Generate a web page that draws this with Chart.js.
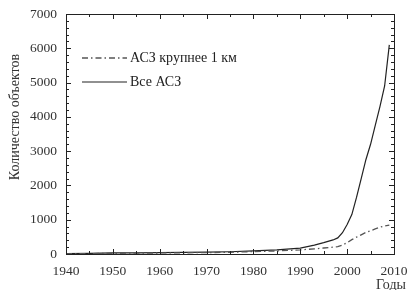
<!DOCTYPE html>
<html>
<head>
<meta charset="utf-8">
<script src="https://cdn.jsdelivr.net/npm/chart.js@4.4.0/dist/chart.umd.min.js"></script>
<style>
  body { margin: 0; background: #fff; }
  canvas { display: block; }
</style>
</head>
<body>
<canvas id="c" width="409" height="290"></canvas>
<script>
// данные
const years = [1940, 1945, 1950, 1955, 1960, 1965, 1970, 1975, 1980, 1985, 1990, 1993, 1995, 1997, 1998,
               1999, 2000, 2001, 2002, 2003, 2004, 2005, 2006, 2007, 2008, 2009];
const allNeo = [10, 20, 30, 35, 40, 45, 55, 65, 90, 120, 170, 260, 330, 410, 470,
                620, 860, 1150, 1650, 2200, 2750, 3200, 3750, 4300, 4900, 6100];
const bigNeo = [5, 12, 20, 25, 30, 35, 40, 50, 70, 90, 120, 150, 175, 200, 215,
                260, 330, 420, 490, 560, 630, 680, 730, 780, 820, 845];
const labels = ['АСЗ крупнее 1 км', 'Все АСЗ'];
const yTicks = [0, 1000, 2000, 3000, 4000, 5000, 6000, 7000];
const xTicks = [1940, 1950, 1960, 1970, 1980, 1990, 2000, 2010];

const FONT = 'Liberation Serif';
const TXT = '#333';

function pts(vals) {
    return years.map((y, i) => ({ x: y, y: vals[i] }));
}

// рамка, засечки внутрь, легенда и подписи осей
const framePlugin = {
    id: 'frame',
    afterDraw(chart) {
        const ctx = chart.ctx;
        const a = chart.chartArea;
        const xs = chart.scales.x, ys = chart.scales.y;
        ctx.save();
        ctx.strokeStyle = '#222';
        ctx.lineWidth = 1;
        ctx.strokeRect(a.left + 0.5, a.top + 0.5, a.right - a.left, a.bottom - a.top);
        ctx.beginPath();
        for (let v = 1940; v <= 2010; v += 5) {
            const px = Math.round(xs.getPixelForValue(v)) + 0.5;
            const len = v % 10 === 0 ? 5 : 3;
            ctx.moveTo(px, a.bottom); ctx.lineTo(px, a.bottom - len);
            ctx.moveTo(px, a.top); ctx.lineTo(px, a.top + len);
        }
        for (let v = 0; v <= 7000; v += 200) {
            const py = Math.round(ys.getPixelForValue(v)) + 0.5;
            const len = v % 1000 === 0 ? 5 : 3;
            ctx.moveTo(a.left, py); ctx.lineTo(a.left + len, py);
            ctx.moveTo(a.right, py); ctx.lineTo(a.right - len, py);
        }
        ctx.stroke();

        // легенда
        ctx.font = '14px "' + FONT + '"';
        ctx.fillStyle = '#222';
        ctx.textBaseline = 'middle';
        chart.data.datasets.forEach((ds, i) => {
            const y = a.top + 44 + i * 24;
            ctx.beginPath();
            ctx.strokeStyle = ds.borderColor;
            ctx.lineWidth = ds.borderWidth;
            ctx.setLineDash(ds.borderDash || []);
            ctx.moveTo(a.left + 16, y);
            ctx.lineTo(a.left + 61, y);
            ctx.stroke();
            ctx.setLineDash([]);
            ctx.fillText(ds.label, a.left + 64, y);
        });

        // подписи осей
        ctx.fillStyle = TXT;
        ctx.font = '14px "' + FONT + '"';
        ctx.textAlign = 'right';
        ctx.fillText('Годы', 406, 285);
        ctx.translate(15, 117);
        ctx.rotate(-Math.PI / 2);
        ctx.textAlign = 'center';
        ctx.fillText('Количество объектов', 0, 0);
        ctx.restore();
    }
};

new Chart(document.getElementById('c'), {
    type: 'line',
    data: {
        datasets: [
            {
                label: labels[0],
                data: pts(bigNeo),
                borderColor: '#555',
                borderWidth: 1.3,
                borderDash: [6, 3, 1.5, 3],
                pointRadius: 0,
                tension: 0
            },
            {
                label: labels[1],
                data: pts(allNeo),
                borderColor: '#222',
                borderWidth: 1.2,
                pointRadius: 0,
                tension: 0
            }
        ]
    },
    options: {
        responsive: false,
        animation: false,
        layout: { padding: { top: 14, right: 15, left: 0, bottom: 0 } },
        plugins: {
            legend: { display: false },
            tooltip: { enabled: false }
        },
        scales: {
            x: {
                type: 'linear',
                min: 1940,
                max: 2010,
                afterBuildTicks: s => { s.ticks = xTicks.map(v => ({ value: v })); },
                grid: { display: false, drawTicks: false },
                border: { display: false },
                ticks: {
                    padding: 9,
                    color: TXT,
                    font: { family: FONT, size: 13.5 },
                    maxRotation: 0,
                    callback: v => String(v)
                },
                afterFit: s => { s.height = 36; s.paddingLeft = 0; s.paddingRight = 0; }
            },
            y: {
                min: 0,
                max: 7000,
                afterBuildTicks: s => { s.ticks = yTicks.map(v => ({ value: v })); },
                grid: { display: false, drawTicks: false },
                border: { display: false },
                ticks: {
                    padding: 9,
                    color: TXT,
                    font: { family: FONT, size: 13.5 },
                    callback: v => String(v)
                },
                afterFit: s => { s.width = 66; s.paddingTop = 0; s.paddingBottom = 0; }
            }
        }
    },
    plugins: [framePlugin]
});
</script>
</body>
</html>
